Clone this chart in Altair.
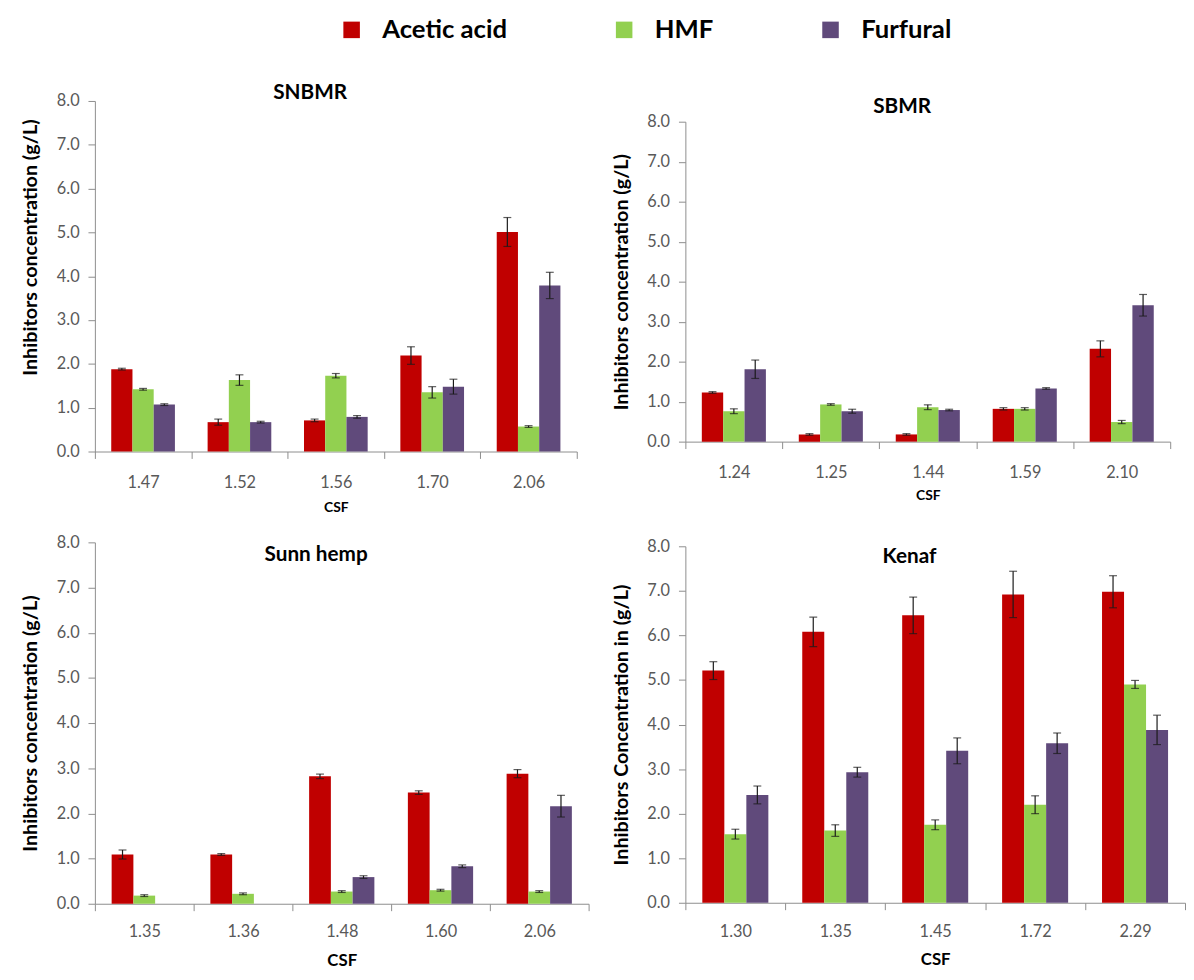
import altair as alt
import pandas as pd

series = ["Acetic acid", "HMF", "Furfural"]
colors = ["#C00000", "#92D050", "#604A7B"]

# SNBMR
csf_snbmr = ["1.47", "1.52", "1.56", "1.70", "2.06"]
acetic_snbmr = [1.88, 0.67, 0.71, 2.19, 5.01]
acetic_snbmr_err = [0.02, 0.07, 0.03, 0.20, 0.33]
hmf_snbmr = [1.42, 1.63, 1.73, 1.35, 0.57]
hmf_snbmr_err = [0.02, 0.12, 0.05, 0.13, 0.02]
fur_snbmr = [1.07, 0.67, 0.79, 1.48, 3.79]
fur_snbmr_err = [0.02, 0.02, 0.03, 0.17, 0.30]

# SBMR
csf_sbmr = ["1.24", "1.25", "1.44", "1.59", "2.10"]
acetic_sbmr = [1.23, 0.18, 0.18, 0.82, 2.32]
acetic_sbmr_err = [0.02, 0.02, 0.02, 0.03, 0.20]
hmf_sbmr = [0.76, 0.93, 0.86, 0.82, 0.49]
hmf_sbmr_err = [0.06, 0.02, 0.06, 0.03, 0.04]
fur_sbmr = [1.81, 0.76, 0.79, 1.33, 3.41]
fur_sbmr_err = [0.23, 0.05, 0.02, 0.02, 0.27]

# Sunn hemp
csf_sunn = ["1.35", "1.36", "1.48", "1.60", "2.06"]
acetic_sunn = [1.09, 1.09, 2.82, 2.46, 2.88]
acetic_sunn_err = [0.10, 0.02, 0.05, 0.04, 0.09]
hmf_sunn = [0.18, 0.22, 0.27, 0.30, 0.27]
hmf_sunn_err = [0.02, 0.02, 0.02, 0.02, 0.02]
fur_sunn = [None, None, 0.59, 0.83, 2.16]
fur_sunn_err = [None, None, 0.03, 0.03, 0.24]

# Kenaf
csf_kenaf = ["1.30", "1.35", "1.45", "1.72", "2.29"]
acetic_kenaf = [5.21, 6.08, 6.45, 6.92, 6.98]
acetic_kenaf_err = [0.20, 0.33, 0.41, 0.52, 0.36]
hmf_kenaf = [1.54, 1.62, 1.75, 2.20, 4.90]
hmf_kenaf_err = [0.11, 0.13, 0.11, 0.20, 0.09]
fur_kenaf = [2.42, 2.93, 3.41, 3.58, 3.88]
fur_kenaf_err = [0.20, 0.11, 0.29, 0.23, 0.33]

y_ticks = [0, 1, 2, 3, 4, 5, 6, 7, 8]


def make_panel(csf, ac, ac_e, hm, hm_e, fu, fu_e, title, ytitle, w, h,
               title_offset, csf_size, label_pad, csf_pad, ytitle_y=None):
    rows = []
    for i, c in enumerate(csf):
        for s, vals, errs in zip(series, [ac, hm, fu], [ac_e, hm_e, fu_e]):
            if vals[i] is None:
                continue
            rows.append(dict(csf=c, series=s, value=vals[i],
                             lo=vals[i] - errs[i], hi=vals[i] + errs[i]))
    df = pd.DataFrame(rows)
    base = alt.Chart(df)

    yaxis_kw = dict(values=y_ticks, format=".1f", title=ytitle,
                    titlePadding=16, tickSize=7, labelPadding=9,
                    titleFontSize=20)
    if ytitle_y is not None:
        yaxis_kw["titleY"] = ytitle_y
    yaxis = alt.Axis(**yaxis_kw)
    xaxis = alt.Axis(labelAngle=0, tickBand="extent", tickSize=7,
                     labelPadding=label_pad, title="CSF",
                     titleFontSize=csf_size, titlePadding=csf_pad)
    x = alt.X("csf:N", sort=csf,
              scale=alt.Scale(paddingInner=0, paddingOuter=0), axis=xaxis)
    xo = alt.XOffset("series:N", sort=series,
                     scale=alt.Scale(paddingInner=0, paddingOuter=0.77))
    yscale = alt.Scale(domain=[0, 8], nice=False)

    color = alt.Color(
        "series:N", sort=series,
        scale=alt.Scale(domain=series, range=colors),
        legend=alt.Legend(title=None, orient="none", legendX=247, legendY=-63,
                          direction="horizontal", columns=3),
    )

    bars = base.mark_bar().encode(
        x=x, xOffset=xo, y=alt.Y("value:Q", scale=yscale, axis=yaxis),
        color=color)
    rules = base.mark_rule(color="#1a1a1a", strokeWidth=1.2).encode(
        x=x, xOffset=xo, y=alt.Y("lo:Q", scale=yscale, axis=yaxis), y2="hi:Q")
    cap_lo = base.mark_tick(color="#1a1a1a", thickness=1.2, size=8).encode(
        x=x, xOffset=xo, y=alt.Y("lo:Q", scale=yscale, axis=yaxis))
    cap_hi = base.mark_tick(color="#1a1a1a", thickness=1.2, size=8).encode(
        x=x, xOffset=xo, y=alt.Y("hi:Q", scale=yscale, axis=yaxis))

    return alt.layer(bars, rules, cap_lo, cap_hi).properties(
        width=w, height=h,
        title=alt.TitleParams(title, anchor="middle", dx=-26,
                              offset=title_offset),
    )


p1 = make_panel(csf_snbmr, acetic_snbmr, acetic_snbmr_err, hmf_snbmr,
                hmf_snbmr_err, fur_snbmr, fur_snbmr_err, "SNBMR",
                "Inhibitors concentration (g/L)", 488, 355,
                title_offset=-10, csf_size=14, label_pad=16, csf_pad=10,
                ytitle_y=148)
p2 = make_panel(csf_sbmr, acetic_sbmr, acetic_sbmr_err, hmf_sbmr,
                hmf_sbmr_err, fur_sbmr, fur_sbmr_err, "SBMR",
                "Inhibitors concentration (g/L)", 491, 324,
                title_offset=-3, csf_size=14, label_pad=16, csf_pad=8)
p3 = make_panel(csf_sunn, acetic_sunn, acetic_sunn_err, hmf_sunn,
                hmf_sunn_err, fur_sunn, fur_sunn_err, "Sunn hemp",
                "Inhibitors concentration  (g/L)", 500, 366,
                title_offset=-31, csf_size=17, label_pad=13, csf_pad=13)
p4 = make_panel(csf_kenaf, acetic_kenaf, acetic_kenaf_err, hmf_kenaf,
                hmf_kenaf_err, fur_kenaf, fur_kenaf_err, "Kenaf",
                "Inhibitors Concentration in (g/L)", 506, 361,
                title_offset=-29, csf_size=17, label_pad=14, csf_pad=12)


def spacer(hgt):
    return alt.Chart(pd.DataFrame({"v": [0]})).mark_point(opacity=0).encode(
        x=alt.value(0), y=alt.value(0)).properties(width=1, height=hgt)


top1 = alt.vconcat(spacer(1), p1, spacing=0).resolve_scale(xOffset="independent")
col1 = alt.vconcat(top1, p3, spacing=20).resolve_scale(xOffset="independent")
top2 = alt.vconcat(spacer(17), p2, spacing=0).resolve_scale(xOffset="independent")
col2 = alt.vconcat(top2, p4, spacing=36).resolve_scale(xOffset="independent")

chart = alt.hconcat(col1, col2, spacing=21).resolve_scale(
    xOffset="independent"
).properties(
    padding={"left": 12, "top": 3, "right": 0, "bottom": 0}
).configure_view(stroke=None).configure_axis(
    domainColor="#8c8c8c", tickColor="#8c8c8c", grid=False,
    labelFont="Lato", labelFontSize=16.5, labelColor="#595959",
    titleFont="Lato", titleFontWeight="bold", titleColor="black",
).configure_title(
    font="Lato", fontWeight="bold", fontSize=21, color="black"
).configure_legend(
    labelFont="Lato", labelFontSize=26, labelFontWeight="bold",
    labelColor="black", symbolType="square", symbolSize=280,
    symbolStrokeWidth=0, columnPadding=105, labelOffset=18, padding=0,
    labelLimit=300,
)

chart.save("out.html", embed_options={"renderer": "svg", "actions": False})
